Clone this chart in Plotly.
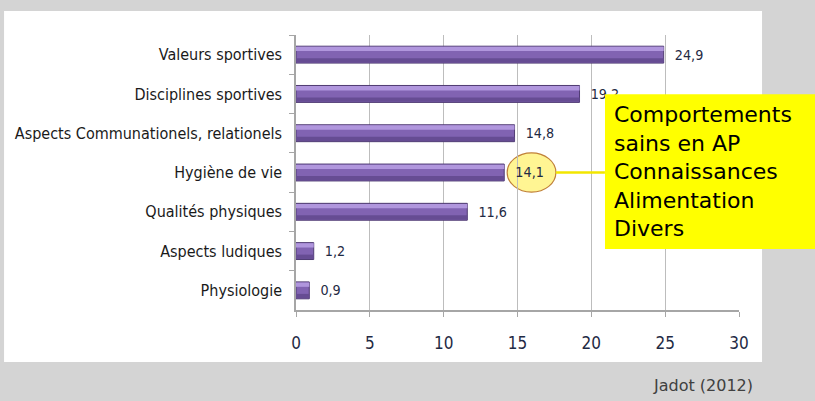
import plotly.graph_objects as go

categories = ["Valeurs sportives", "Disciplines sportives", "Aspects Communationels, relationels",
              "Hygiène de vie", "Qualités physiques", "Aspects ludiques", "Physiologie"]
values = [24.9, 19.2, 14.8, 14.1, 11.6, 1.2, 0.9]
x_ticks = [0, 5, 10, 15, 20, 25, 30]
callout_lines = ["Comportements", "sains en AP", "Connaissances", "Alimentation", "Divers"]
source = "Jadot (2012)"
highlight = "Hygiène de vie"

narrow = "DejaVu Sans Condensed, Liberation Sans Narrow, sans-serif"

fig = go.Figure()
# bar body
fig.add_trace(go.Bar(
    y=categories, x=values, orientation="h", width=0.43,
    marker=dict(color="#8163B2", line=dict(color="#4F3B72", width=1)),
    texttemplate="  %{x:.1f}", textposition="outside", cliponaxis=False,
    textfont=dict(family=narrow, size=16, color="#1F2A44"),
    hoverinfo="skip",
))
# light top sheen
fig.add_trace(go.Bar(
    y=categories, x=values, orientation="h", width=0.11, offset=-0.2,
    marker=dict(color="#B096DD", line=dict(width=0)), hoverinfo="skip",
))
# dark lower edge
fig.add_trace(go.Bar(
    y=categories, x=values, orientation="h", width=0.11, offset=0.09,
    marker=dict(color="#664C93", line=dict(width=0)), hoverinfo="skip",
))

hi_idx = categories.index(highlight)
hi_val = values[hi_idx]

shapes = [
    # white panel
    dict(type="rect", xref="paper", yref="paper", x0=-0.659, x1=1.052, y0=-0.189, y1=1.087,
         fillcolor="white", line=dict(width=0), layer="below"),
    # ellipse around highlighted label
    dict(type="circle", xref="x", yref="y", x0=hi_val + 0.2, x1=hi_val + 3.5,
         y0=hi_idx - 0.5, y1=hi_idx + 0.5,
         fillcolor="rgba(255,243,120,0.8)", line=dict(color="#C0803A", width=1.2), layer="below"),
    # connector
    dict(type="line", xref="x", yref="y", x0=hi_val + 3.5, x1=20.92, y0=hi_idx, y1=hi_idx,
         line=dict(color="#F2E600", width=2.5)),
    # yellow callout box
    dict(type="rect", xref="paper", yref="paper", x0=0.6975, x1=1.2, y0=0.222, y1=0.785,
         fillcolor="#FFFF00", line=dict(width=0), layer="above"),
]

annotations = [
    dict(xref="paper", yref="paper", x=0.713, y=0.503, xanchor="left", yanchor="middle",
         text="<br>".join(callout_lines), align="left", showarrow=False,
         font=dict(family="DejaVu Sans", size=22, color="black")),
    dict(xref="paper", yref="paper", x=0.919, y=-0.276, xanchor="center", yanchor="middle",
         text=source, showarrow=False,
         font=dict(family="DejaVu Sans", size=16, color="#404040")),
]

fig.update_layout(
    width=815, height=401,
    margin=dict(l=296, r=76, t=35, b=91),
    paper_bgcolor="#D4D4D4", plot_bgcolor="white",
    separators=", ",
    showlegend=False, barmode="overlay",
    shapes=shapes, annotations=annotations,
    xaxis=dict(range=[0, 30], tickvals=x_ticks, showgrid=True, gridcolor="#BDBDBD", gridwidth=1,
               showline=True, linecolor="#A6A6A6", linewidth=1.5, ticks="outside", ticklen=5,
               tickcolor="#A6A6A6", zeroline=False, ticklabelstandoff=12,
               tickfont=dict(family=narrow, size=17, color="#1F2A44")),
    yaxis=dict(categoryorder="array", categoryarray=categories, autorange="reversed",
               showline=True, linecolor="#A6A6A6", linewidth=1.5, ticks="outside", ticklen=5,
               tickcolor="#A6A6A6", tickson="boundaries", showgrid=False, ticklabelstandoff=9,
               tickfont=dict(family=narrow, size=16, color="#1A1A1A")),
)

fig.write_html("out.html", config={"displayModeBar": False},
               post_script="document.body.style.margin='0';")
